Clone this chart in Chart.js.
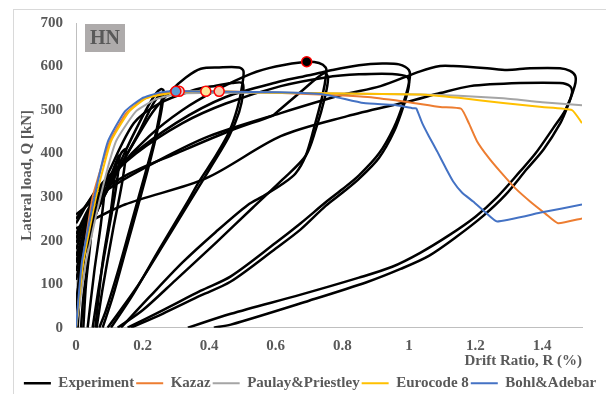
<!DOCTYPE html>
<html>
<head>
<meta charset="utf-8">
<script src="https://cdn.jsdelivr.net/npm/chart.js@4.4.1/dist/chart.umd.min.js"></script>
<style>
  html, body { margin: 0; padding: 0; background: #fff; overflow: hidden; }
  #frame { position: absolute; left: 13px; top: 9px; width: 700px; height: 500px; border: 1px solid #D9D9D9; }
  #chart { position: absolute; left: 14px; top: 1px; }
</style>
</head>
<body>
<div id="frame"></div>
<canvas id="chart" width="592" height="393"></canvas>
<script>
// axis ticks
const xTicks = [0, 0.2, 0.4, 0.6, 0.8, 1, 1.2, 1.4];
const yTicks = [0, 100, 200, 300, 400, 500, 600, 700];

// experiment: hysteresis branches, [drift %, load kN]
const expSmallA = [[0.005, 0], [0.012, 80], [0.025, 160], [0.04, 215], [0.035, 150], [0.022, 70], [0.015, 0]];
const expSmallB = [[0, 60], [0.015, 130], [0.035, 200], [0.06, 270], [0.085, 320], [0.075, 240], [0.055, 130], [0.035, 0]];
const expSmallC = [[0, 110], [0.02, 170], [0.05, 240], [0.08, 300], [0.11, 360], [0.13, 395], [0.12, 320], [0.095, 210], [0.07, 100], [0.05, 0]];
const expSmallD = [[0, 150], [0.03, 210], [0.07, 280], [0.1, 330], [0.135, 400], [0.15, 410], [0.14, 340], [0.11, 220], [0.08, 90], [0.062, 0]];
const expSmallE = [[0, 20], [0.008, 110], [0.02, 200], [0.035, 260], [0.05, 290], [0.045, 210], [0.03, 100], [0.022, 0]];
const expSmallF = [[0, 130], [0.025, 200], [0.055, 255], [0.09, 310], [0.115, 350], [0.105, 270], [0.08, 150], [0.058, 0]];
const exp25a = [[0, 150], [0.03, 225], [0.07, 290], [0.12, 360], [0.17, 440], [0.21, 500], [0.24, 538], [0.255, 548], [0.263, 545], [0.258, 505], [0.245, 455], [0.225, 390], [0.19, 290], [0.15, 180], [0.11, 70], [0.08, 0]];
const exp25b = [[0, 165], [0.04, 250], [0.09, 310], [0.14, 380], [0.19, 450], [0.225, 505], [0.248, 532], [0.258, 530], [0.25, 485], [0.235, 430], [0.21, 360], [0.17, 250], [0.13, 140], [0.09, 40], [0.07, 0]];
const exp50a = [[0, 180], [0.04, 262], [0.1, 330], [0.17, 420], [0.23, 495], [0.285, 544], [0.33, 575], [0.375, 595], [0.43, 598], [0.49, 598], [0.503, 590], [0.5, 560], [0.485, 505], [0.46, 450], [0.42, 395], [0.37, 336], [0.336, 290], [0.25, 180], [0.17, 75], [0.105, 0]];
const exp50b = [[0, 195], [0.05, 275], [0.1, 360], [0.174, 470], [0.25, 515], [0.35, 545], [0.42, 556], [0.47, 562], [0.5, 562], [0.502, 540], [0.49, 495], [0.46, 440], [0.41, 375], [0.35, 300], [0.27, 200], [0.18, 90], [0.095, 0]];
const exp73a = [[0, 205], [0.05, 285], [0.12, 360], [0.22, 440], [0.32, 500], [0.42, 545], [0.525, 583], [0.6, 600], [0.693, 611], [0.73, 608], [0.75, 598], [0.752, 585], [0.74, 532], [0.714, 456], [0.69, 395], [0.66, 355], [0.62, 330], [0.564, 303], [0.516, 282], [0.42, 220], [0.32, 150], [0.22, 70], [0.135, 0]];
const exp73b = [[0, 215], [0.06, 300], [0.15, 350], [0.3, 400], [0.465, 453], [0.59, 487], [0.6, 493], [0.68, 545], [0.745, 585], [0.757, 575], [0.748, 530], [0.72, 455], [0.69, 395], [0.62, 340], [0.53, 275], [0.42, 195], [0.3, 110], [0.2, 40], [0.125, 0]];
const exp100a = [[0, 240], [0.06, 315], [0.15, 385], [0.3, 470], [0.45, 530], [0.615, 566], [0.7, 580], [0.77, 592], [0.85, 603], [0.92, 607], [0.97, 605], [1.0, 592], [1.002, 570], [0.985, 520], [0.955, 460], [0.91, 400], [0.85, 350], [0.8, 318], [0.75, 288], [0.675, 240], [0.6, 195], [0.465, 118], [0.375, 85], [0.26, 40], [0.155, 0]];
const exp100b = [[0, 250], [0.07, 320], [0.18, 400], [0.32, 470], [0.45, 515], [0.615, 555], [0.75, 575], [0.85, 582], [0.95, 583], [0.995, 576], [1.0, 556], [0.985, 512], [0.955, 450], [0.91, 390], [0.85, 342], [0.8, 310], [0.75, 280], [0.675, 226], [0.6, 182], [0.465, 106], [0.375, 74], [0.26, 32], [0.165, 0]];
const exp150a = [[0, 260], [0.1, 320], [0.25, 385], [0.4, 440], [0.615, 493], [0.8, 535], [0.915, 555], [1.034, 589], [1.094, 601], [1.133, 601], [1.235, 596], [1.295, 592], [1.364, 596], [1.454, 596], [1.484, 590], [1.5, 578], [1.498, 555], [1.47, 500], [1.433, 458], [1.38, 400], [1.334, 359], [1.265, 300], [1.2, 255], [1.12, 212], [1.034, 172], [0.95, 140], [0.85, 115], [0.675, 76], [0.465, 32], [0.336, 0]];
const exp150b = [[0, 228], [0.147, 283], [0.39, 343], [0.615, 440], [0.815, 486], [1.0, 520], [1.094, 539], [1.184, 555], [1.334, 562], [1.454, 562], [1.484, 555], [1.49, 540], [1.475, 505], [1.455, 470], [1.405, 410], [1.355, 365], [1.29, 305], [1.225, 258], [1.145, 210], [1.06, 165], [0.975, 135], [0.875, 105], [0.7, 62], [0.465, 7], [0.414, 0]];

// model envelopes
const kazaz = [[0, 0], [0.02, 150], [0.05, 300], [0.1, 425], [0.15, 492], [0.2, 524], [0.25, 537], [0.3, 542], [0.43, 543], [0.6, 540], [0.786, 534], [0.876, 530], [1.0, 518], [1.094, 507], [1.157, 503], [1.18, 470], [1.205, 428], [1.24, 390], [1.274, 359], [1.32, 320], [1.364, 290], [1.41, 262], [1.448, 240], [1.52, 251]];
const paulay = [[0, 0], [0.03, 150], [0.075, 306], [0.12, 428], [0.18, 497], [0.24, 525], [0.31, 538], [0.5, 540], [0.8, 538], [1.034, 536], [1.15, 533], [1.283, 527], [1.4, 518], [1.52, 511]];
const eurocode = [[0, 0], [0.022, 150], [0.062, 306], [0.105, 428], [0.16, 497], [0.21, 527], [0.3, 541], [0.39, 543], [0.6, 540], [0.8, 538], [1.034, 536], [1.15, 528], [1.283, 516], [1.4, 507], [1.49, 500], [1.52, 470]];
const bohl = [[0, 0], [0.018, 152], [0.057, 306], [0.096, 428], [0.147, 497], [0.198, 527], [0.25, 540], [0.3, 544], [0.45, 542], [0.615, 541], [0.744, 536], [0.864, 516], [0.954, 512], [1.013, 504], [1.022, 504], [1.04, 470], [1.06, 440], [1.085, 405], [1.11, 368], [1.133, 336], [1.16, 310], [1.193, 290], [1.23, 265], [1.265, 244], [1.4, 265], [1.52, 283]];

// yield points of the models and the test peak
const yieldKazaz = [[0.43, 543]];
const yieldEurocode = [[0.39, 543]];
const yieldPaulay = [[0.31, 543]];
const yieldBohl = [[0.3, 543]];
const peakTest = [[0.693, 611]];

const legendOrder = ["Experiment", "Kazaz", "Paulay&Priestley", "Eurocode 8", "Bohl&Adebar"];
const expPaths = [expSmallA, expSmallB, expSmallC, expSmallD, expSmallE, expSmallF, exp25a, exp25b, exp50a, exp50b, exp73a, exp73b, exp100a, exp100b, exp150a, exp150b];

const FONT = "'Liberation Serif', 'Times New Roman', serif";
const GREY = "#595959";

const toPts = (arr) => arr.map(([x, y]) => ({ x, y }));

function lineSet(label, data, color, order, extra = {}) {
  return {
    label,
    data: toPts(data),
    showLine: true,
    borderColor: color,
    backgroundColor: color,
    borderWidth: 2,
    pointRadius: 0,
    tension: 0.15,
    order,
    ...extra,
  };
}

function markerSet(data, fill, order) {
  return {
    label: "",
    data: toPts(data),
    showLine: false,
    pointRadius: 5,
    pointBorderWidth: 1.5,
    pointBorderColor: "#FF0000",
    pointBackgroundColor: fill,
    order,
  };
}

const datasets = [
  markerSet(peakTest, "#000000", 0),
  markerSet(yieldBohl, "#5B9BD5", 1),
  markerSet(yieldPaulay, "#D9D9D9", 2),
  markerSet(yieldEurocode, "#FFE699", 3),
  markerSet(yieldKazaz, "#F8CBAD", 4),
  lineSet("Bohl&Adebar", bohl, "#4472C4", 5),
  lineSet("Eurocode 8", eurocode, "#FFC000", 6),
  lineSet("Paulay&Priestley", paulay, "#A5A5A5", 7),
  lineSet("Kazaz", kazaz, "#ED7D31", 8),
];
expPaths.forEach((path, i) => {
  datasets.push(lineSet(i === 0 ? "Experiment" : "", path, "#000000", 10 + i, { borderWidth: 2.5, tension: 0.3 }));
});

const hnLabel = {
  id: "hnLabel",
  afterDraw(chart) {
    const { ctx, chartArea } = chart;
    const x = chartArea.left + 9;
    const y = chartArea.top + 1;
    ctx.save();
    ctx.fillStyle = "#AEABAB";
    ctx.fillRect(x, y, 40, 28);
    ctx.fillStyle = GREY;
    ctx.font = `bold 20px ${FONT}`;
    ctx.textAlign = "center";
    ctx.textBaseline = "middle";
    ctx.fillText("HN", x + 20, y + 15);
    ctx.restore();
  },
};

new Chart(document.getElementById("chart"), {
  type: "scatter",
  data: { datasets },
  plugins: [hnLabel],
  options: {
    responsive: false,
    animation: false,
    devicePixelRatio: 1,
    layout: { padding: { top: 0, left: 0, right: 0, bottom: -6.7 } },
    plugins: {
      tooltip: { enabled: false },
      legend: {
        position: "bottom",
        labels: {
          usePointStyle: true,
          pointStyle: "line",
          pointStyleWidth: 27,
          padding: 2,
          color: GREY,
          font: { family: FONT, size: 15, weight: "bold" },
          filter: (item) => legendOrder.includes(item.text),
          sort: (a, b) => legendOrder.indexOf(a.text) - legendOrder.indexOf(b.text),
        },
      },
    },
    scales: {
      x: {
        type: "linear",
        min: 0,
        max: 1.52,
        grid: { display: false, drawTicks: false },
        border: { display: true, color: "#BFBFBF", width: 1 },
        afterBuildTicks: (scale) => { scale.ticks = xTicks.map((v) => ({ value: v })); },
        afterFit: (scale) => { scale.height = 46; },
        ticks: {
          padding: 9,
          color: GREY,
          font: { family: FONT, size: 15, weight: "bold" },
          callback: (v) => String(v),
        },
        title: {
          display: true,
          text: "Drift Ratio, R (%)",
          align: "end",
          color: GREY,
          padding: { top: 0, bottom: 4 },
          font: { family: FONT, size: 15, weight: "bold" },
        },
      },
      y: {
        type: "linear",
        min: 0,
        max: 700,
        grid: { display: false, drawTicks: false },
        border: { display: true, color: "#BFBFBF", width: 1 },
        afterBuildTicks: (scale) => { scale.ticks = yTicks.map((v) => ({ value: v })); },
        afterFit: (scale) => { scale.width = 62; },
        ticks: {
          padding: 13,
          color: GREY,
          font: { family: FONT, size: 15, weight: "bold" },
        },
        title: {
          display: true,
          text: "Lateral load, Q [kN]",
          color: GREY,
          padding: { top: 4, bottom: 0 },
          font: { family: FONT, size: 15, weight: "bold" },
        },
      },
      yRight: {
        type: "linear",
        position: "right",
        display: true,
        grid: { display: false, drawTicks: false },
        border: { display: false },
        ticks: { display: false },
        afterFit: (scale) => { scale.width = 24; },
      },
    },
  },
});
</script>
</body>
</html>
